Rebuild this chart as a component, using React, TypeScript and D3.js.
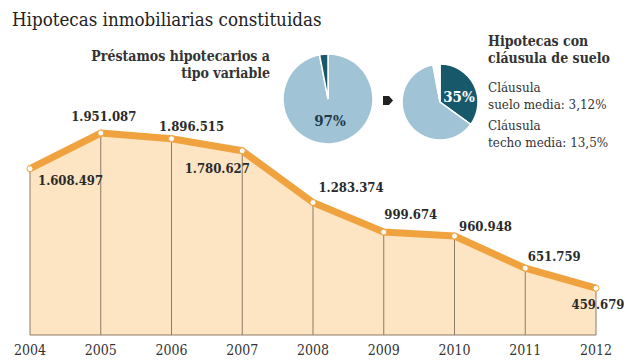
import React from "react";
import * as d3 from "d3";

const years = ["2004", "2005", "2006", "2007", "2008", "2009", "2010", "2011", "2012"];
const hipotecas = [1608497, 1951087, 1896515, 1780627, 1283374, 999674, 960948, 651759, 459679];
const valueLabels = ["1.608.497", "1.951.087", "1.896.515", "1.780.627", "1.283.374", "999.674", "960.948", "651.759", "459.679"];
// label offset (dx, dy) relative to the point, and anchor
const labelPos: [number, number, string][] = [
  [8, 16, "start"], [3, -12, "middle"], [20, -8, "middle"], [-25, 22, "middle"],
  [38, -11, "middle"], [27, -13, "middle"], [31, -5, "middle"], [29, -7, "middle"], [2, 21, "middle"],
];

// variable-rate share, then share with floor clause (the 3% gap kept empty)
const pieVariable = [97, 3];
const pieSuelo = [35, 62, 3];

const W = 644;
const H = 362;

const lightBlue = "#a0c3d6";
const darkTeal = "#17586b";
const orange = "#f0a23e";
const areaFill = "#fde4c2";
const gridColor = "#8c7b66";
const serif = "'DejaVu Serif Condensed', 'DejaVu Serif', serif";

function Pie({ data, colors, cx, cy, r, label, labelX, labelY, labelColor }: any) {
  const arcs = d3.pie<number>().sort(null)(data);
  const arc = d3.arc<d3.PieArcDatum<number>>().innerRadius(0).outerRadius(r);
  return (
    <g transform={`translate(${cx},${cy})`}>
      {arcs.map((a, i) => (
        <path key={i} d={arc(a) || ""} fill={colors[i]} stroke="#fff" strokeWidth={1.5} />
      ))}
      <text x={labelX} y={labelY} textAnchor="middle" fontWeight="bold" fontSize={15} fill={labelColor} fontFamily={serif}>
        {label}
      </text>
    </g>
  );
}

export default function App() {
  const x = d3.scalePoint<string>().domain(years).range([30, 596]);
  const y = d3.scaleLinear().domain([0, 2000000]).range([336, 128]);
  const baseY = 335;

  const pts = years.map((yr, i) => ({ yr, v: hipotecas[i] }));
  const area = d3
    .area<{ yr: string; v: number }>()
    .x((d) => x(d.yr)!)
    .y0(baseY)
    .y1((d) => y(d.v));
  const line = d3
    .line<{ yr: string; v: number }>()
    .x((d) => x(d.yr)!)
    .y((d) => y(d.v));

  return (
    <svg width={W} height={H} style={{ position: "absolute", left: 0, top: 0, background: "#fff" }}>
      <text x={12} y={26} fontSize={18.6} fill="#222" fontFamily={serif}>
        Hipotecas inmobiliarias constituidas
      </text>

      <path d={area(pts) || ""} fill={areaFill} />
      {pts.map((d) => (
        <line key={d.yr} x1={x(d.yr)} x2={x(d.yr)} y1={y(d.v)} y2={baseY} stroke={gridColor} strokeWidth={1} />
      ))}
      <line x1={x(years[0])} x2={x(years[years.length - 1])} y1={baseY} y2={baseY} stroke={gridColor} strokeWidth={1} />
      <path d={line(pts) || ""} fill="none" stroke={orange} strokeWidth={7} strokeLinejoin="round" />
      {pts.map((d) => (
        <circle key={d.yr} cx={x(d.yr)} cy={y(d.v)} r={3} fill="#fff" stroke={orange} strokeWidth={1} />
      ))}
      {pts.map((d, i) => (
        <text
          key={d.yr}
          x={x(d.yr)! + labelPos[i][0]}
          y={y(d.v) + labelPos[i][1]}
          textAnchor={labelPos[i][2] as any}
          fontSize={13}
          fontWeight="bold"
          fill="#2a2a2a"
          fontFamily={serif}
        >
          {valueLabels[i]}
        </text>
      ))}
      {years.map((yr) => (
        <text key={yr} x={x(yr)} y={355} textAnchor="middle" fontSize={14} fill="#333" fontFamily={serif}>
          {yr}
        </text>
      ))}

      <text x={270} y={61} textAnchor="end" fontSize={14} fontWeight="bold" fill="#333" fontFamily={serif}>
        Préstamos hipotecarios a
      </text>
      <text x={270} y={78} textAnchor="end" fontSize={14} fontWeight="bold" fill="#333" fontFamily={serif}>
        tipo variable
      </text>

      <Pie data={pieVariable} colors={[lightBlue, darkTeal]} cx={328} cy={99} r={45} label="97%" labelX={2} labelY={27} labelColor="#203a4a" />
      <path d="M 383 96 L 389 96 L 393 100.5 L 389 105 L 383 105 Z" fill="#222" />
      <Pie data={pieSuelo} colors={[darkTeal, lightBlue, "#fff"]} cx={440} cy={102} r={38} label="35%" labelX={19} labelY={0} labelColor="#fff" />

      <text x={488} y={46} fontSize={14} fontWeight="bold" fill="#333" fontFamily={serif}>
        Hipotecas con
      </text>
      <text x={488} y={63} fontSize={14} fontWeight="bold" fill="#333" fontFamily={serif}>
        cláusula de suelo
      </text>
      {["Cláusula", "suelo media: 3,12%", "Cláusula", "techo media: 13,5%"].map((t, i) => (
        <text key={i} x={488} y={[92, 109, 130, 147][i]} fontSize={13.3} fill="#333" fontFamily={serif}>
          {t}
        </text>
      ))}
    </svg>
  );
}
